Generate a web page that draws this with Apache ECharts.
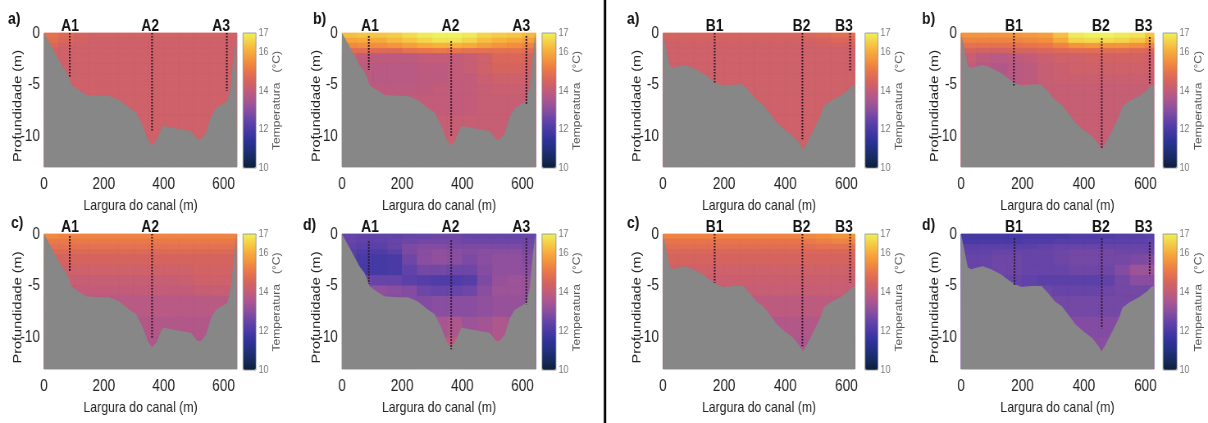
<!DOCTYPE html>
<html><head><meta charset="utf-8">
<script src="https://cdn.jsdelivr.net/npm/echarts@6/dist/echarts.min.js"></script>
<style>
html,body{margin:0;padding:0;background:#fff;overflow:hidden;width:1208px;height:423px}
#c{width:1473px;height:423px;transform:scaleX(0.820095);transform-origin:0 0}
</style>
</head><body><div id="c"></div>
<script>
// ---------- data ----------
const X_EDGES = [0,50,100,150,200,250,300,350,400,450,500,550,600,650];
const DEPTH_EDGES = [0,-0.5,-1,-1.5,-2,-3,-4,-5,-6,-8,-10,-13];
const X_TICKS = [0,200,400,600];
const Y_TICKS = [-10,-5,0];
const CBAR_TICKS = [10,12,14,16,17];
const TEMP_RANGE = [10,17];
const DEPTH_RANGE = [-13,0];
const WIDTH_A = 645, WIDTH_B = 628;
const PANEL_LABELS = ['a)','b)','c)','d)','a)','b)','c)','d)'];

const BOTTOM_A = [[0,0],[19,-1.0],[36,-1.9],[58,-3.1],[74,-3.7],[86,-4.5],[91,-5.0],[113,-5.5],[141,-6.0],[186,-6.1],[219,-6.1],[252,-6.5],[286,-7.3],[308,-7.7],[330,-9.0],[347,-10.3],[361,-10.9],[374,-10.5],[397,-9.0],[430,-9.2],[458,-9.35],[491,-9.5],[513,-10.3],[524,-10.3],[541,-9.7],[558,-8.1],[574,-7.3],[597,-6.9],[613,-6.6],[624,-5.2],[636,-1.6],[643,0],[645,0]];
const BOTTOM_B = [[0,0],[11,-1.6],[22,-3.2],[33,-3.4],[55,-3.2],[71,-3.1],[98,-3.4],[131,-3.9],[153,-4.4],[175,-4.85],[197,-5.1],[230,-5.0],[262,-5.0],[284,-5.7],[306,-6.5],[328,-6.95],[350,-7.8],[372,-8.7],[399,-9.4],[426,-10.0],[448,-10.8],[457,-11.3],[470,-10.7],[492,-9.4],[514,-8.1],[525,-7.1],[547,-6.6],[579,-6.1],[607,-5.5],[618,-5.1],[628,-5.0]];

// stations: [x, top depth, bottom depth, label x, name]
const ST_AA = [[86,0,-4.3,87,'A1'],[361,0,-9.5,355,'A2'],[611,0,-5.6,592,'A3']];
const ST_AB = [[89,-0.3,-3.6,93,'A1'],[363,-0.8,-10.0,361,'A2'],[613,-0.3,-6.9,596,'A3']];
const ST_AC = [[86,-0.2,-3.6,87,'A1'],[361,0,-10.1,355,'A2']];
const ST_AD = [[89,-0.7,-4.8,93,'A1'],[363,-0.6,-11.1,361,'A2'],[613,-0.4,-6.8,596,'A3']];
const ST_BA = [[169,0,-4.9,169,'B1'],[456,0,-10.3,453,'B2'],[612,0,-3.7,592,'B3']];
const ST_BB = [[172,0,-5.2,172,'B1'],[458,-0.5,-11.2,455,'B2'],[614,-0.4,-4.9,594,'B3']];
const ST_BC = [[169,0,-4.7,169,'B1'],[456,0,-10.8,453,'B2'],[612,0,-4.7,592,'B3']];
const ST_BD = [[174,-0.4,-5.0,172,'B1'],[458,-0.4,-9.1,455,'B2'],[614,-0.8,-4.0,594,'B3']];

// temperature (°C): rows = depth bands (DEPTH_EDGES), cols = 50 m bands (X_EDGES)
const TEMP_AA = [
[14.9,14.7,14.5,14.4,14.4,14.4,14.4,14.4,14.4,14.4,14.4,14.4,14.4],
[14.8,14.6,14.4,14.3,14.3,14.3,14.3,14.3,14.3,14.3,14.3,14.3,14.3],
[14.6,14.4,14.3,14.3,14.3,14.3,14.3,14.3,14.3,14.3,14.3,14.3,14.3],
[14.4,14.3,14.3,14.3,14.3,14.3,14.3,14.3,14.3,14.3,14.3,14.3,14.3],
[14.3,14.3,14.3,14.3,14.3,14.3,14.3,14.3,14.3,14.3,14.3,14.3,14.3],
[14.3,14.3,14.3,14.3,14.3,14.3,14.3,14.3,14.3,14.3,14.3,14.3,14.3],
[14.3,14.3,14.3,14.3,14.3,14.3,14.3,14.3,14.3,14.3,14.3,14.3,14.3],
[14.3,14.3,14.3,14.3,14.3,14.3,14.3,14.3,14.3,14.3,14.3,14.3,14.3],
[14.3,14.3,14.3,14.3,14.3,14.3,14.3,14.3,14.3,14.3,14.3,14.3,14.3],
[14.3,14.3,14.3,14.3,14.3,14.3,14.3,14.3,14.3,14.3,14.3,14.3,14.3],
[14.3,14.3,14.3,14.3,14.3,14.3,14.3,14.3,14.3,14.3,14.3,14.3,14.3]];
const TEMP_AB = [
[16.3,16.4,16.4,16.5,16.7,16.9,17.0,17.0,16.9,16.6,16.5,16.4,16.2],
[15.9,16.0,16.0,16.2,16.4,16.6,16.8,16.8,16.6,16.3,16.1,16.0,15.8],
[15.4,15.5,15.5,15.6,15.8,16.0,16.1,16.1,16.0,15.8,15.6,15.5,15.3],
[14.8,14.8,14.7,14.7,14.9,15.0,15.1,15.0,14.9,14.9,14.9,14.9,14.8],
[14.3,14.0,13.9,13.9,13.9,14.0,14.0,14.0,14.1,14.3,14.6,14.6,14.5],
[14.2,13.9,13.8,13.8,13.8,13.9,13.9,14.0,14.1,14.3,14.5,14.5,14.4],
[14.1,13.9,13.8,13.8,13.8,13.9,13.9,14.0,14.0,14.2,14.3,14.3,14.3],
[14.0,13.9,13.9,13.9,13.9,13.9,14.0,14.0,14.0,14.1,14.2,14.2,14.2],
[14.0,14.0,14.0,14.0,14.0,14.0,14.0,14.0,14.0,14.1,14.1,14.1,14.1],
[14.1,14.1,14.1,14.1,14.1,14.1,14.1,14.1,14.1,14.1,14.1,14.1,14.1],
[14.2,14.2,14.2,14.2,14.2,14.2,14.2,14.2,14.2,14.2,14.2,14.2,14.2]];
const TEMP_AC = [
[15.4,15.3,15.3,15.3,15.3,15.3,15.3,15.3,15.3,15.3,15.3,15.3,15.3],
[15.1,15.1,15.1,15.1,15.1,15.1,15.1,15.1,15.1,15.1,15.1,15.1,15.1],
[14.9,14.9,14.9,14.9,14.9,14.9,14.9,14.9,14.9,14.9,14.9,14.9,14.9],
[14.7,14.7,14.7,14.7,14.7,14.7,14.7,14.7,14.7,14.7,14.7,14.7,14.7],
[14.5,14.5,14.5,14.5,14.5,14.5,14.5,14.5,14.5,14.5,14.5,14.5,14.5],
[14.3,14.3,14.3,14.3,14.3,14.3,14.3,14.3,14.3,14.3,14.4,14.4,14.4],
[14.2,14.2,14.1,14.1,14.1,14.1,14.1,14.1,14.1,14.2,14.3,14.3,14.3],
[14.0,14.0,14.0,14.0,14.0,14.0,14.0,14.0,14.0,14.0,14.1,14.1,14.1],
[13.8,13.8,13.8,13.8,13.8,13.8,13.8,13.8,13.8,13.8,13.8,13.8,13.8],
[13.7,13.7,13.7,13.7,13.7,13.7,13.7,13.7,13.7,13.7,13.7,13.7,13.7],
[13.6,13.6,13.6,13.6,13.6,13.6,13.6,13.6,13.6,13.6,13.6,13.6,13.6]];
const TEMP_AD = [
[12.5,12.4,12.4,12.4,12.5,12.5,12.6,12.6,12.5,12.5,12.5,12.5,12.5],
[12.5,12.4,12.4,12.5,12.6,12.7,12.7,12.7,12.6,12.6,12.6,12.6,12.6],
[12.4,12.3,12.3,12.5,12.8,12.9,12.9,12.8,12.8,12.8,12.8,12.8,12.7],
[12.3,12.1,12.1,12.3,12.8,13.0,13.1,13.0,12.9,13.0,13.0,13.0,12.8],
[12.2,12.0,11.9,12.0,12.6,13.0,13.1,13.0,12.8,13.0,13.1,13.1,12.9],
[12.1,11.9,11.9,12.0,12.4,12.7,12.7,12.6,12.6,12.9,13.1,13.1,13.0],
[12.6,12.6,12.5,12.5,12.3,12.2,12.1,12.1,12.2,12.8,13.2,13.3,13.2],
[13.0,13.1,13.1,13.0,12.9,12.6,12.5,12.5,12.6,13.0,13.3,13.3,13.2],
[12.9,12.9,12.9,12.9,12.9,12.9,13.0,13.0,13.0,13.1,13.2,13.2,13.1],
[13.1,13.1,13.1,13.1,13.1,13.2,13.5,13.6,13.3,13.4,13.6,13.5,13.3],
[13.6,13.6,13.6,13.6,13.6,13.8,14.0,13.9,13.6,13.6,13.7,13.6,13.5]];
const TEMP_BA = [
[14.5,14.5,14.5,14.5,14.5,14.5,14.5,14.5,14.5,14.6,14.7,14.8,14.8],
[14.4,14.4,14.4,14.4,14.4,14.4,14.4,14.4,14.4,14.4,14.5,14.6,14.6],
[14.3,14.3,14.3,14.3,14.3,14.3,14.3,14.3,14.3,14.3,14.4,14.4,14.4],
[14.3,14.3,14.3,14.3,14.3,14.3,14.3,14.3,14.3,14.3,14.3,14.3,14.3],
[14.3,14.3,14.3,14.3,14.3,14.3,14.3,14.3,14.3,14.3,14.3,14.3,14.3],
[14.3,14.3,14.3,14.3,14.3,14.3,14.3,14.3,14.3,14.3,14.3,14.3,14.3],
[14.3,14.3,14.3,14.3,14.3,14.3,14.3,14.3,14.3,14.3,14.3,14.3,14.3],
[14.3,14.3,14.3,14.3,14.3,14.3,14.3,14.3,14.3,14.3,14.3,14.3,14.3],
[14.3,14.3,14.3,14.3,14.3,14.3,14.3,14.3,14.3,14.3,14.3,14.3,14.3],
[14.3,14.3,14.3,14.3,14.3,14.3,14.3,14.3,14.3,14.3,14.3,14.3,14.3],
[14.3,14.3,14.3,14.3,14.3,14.3,14.3,14.3,14.3,14.3,14.3,14.3,14.3]];
const TEMP_BB = [
[15.6,15.6,15.6,15.6,15.7,15.8,16.3,16.9,17.0,17.0,16.9,16.8,16.4],
[15.3,15.3,15.3,15.3,15.4,15.5,16.0,16.6,16.7,16.7,16.6,16.4,16.0],
[14.9,14.9,14.9,14.9,15.0,15.1,15.3,15.6,15.7,15.6,15.6,15.5,15.3],
[14.5,14.4,14.4,14.5,14.5,14.6,14.7,14.8,14.8,14.8,14.8,14.7,14.6],
[14.1,13.9,13.8,13.9,14.0,14.2,14.3,14.3,14.4,14.4,14.4,14.4,14.3],
[14.0,13.8,13.7,13.8,13.9,14.1,14.2,14.3,14.3,14.3,14.3,14.3,14.3],
[14.0,13.9,13.8,13.8,13.9,14.1,14.2,14.2,14.2,14.2,14.2,14.2,14.2],
[14.1,14.1,14.1,14.1,14.1,14.1,14.1,14.1,14.1,14.1,14.1,14.1,14.1],
[14.1,14.1,14.1,14.1,14.1,14.1,14.1,14.1,14.1,14.1,14.1,14.1,14.1],
[14.1,14.1,14.1,14.1,14.1,14.1,14.1,14.1,14.1,14.1,14.1,14.1,14.1],
[14.1,14.1,14.1,14.1,14.1,14.1,14.1,14.1,14.1,14.1,14.1,14.1,14.1]];
const TEMP_BC = [
[15.3,15.3,15.3,15.3,15.3,15.3,15.3,15.3,15.3,15.4,15.5,15.6,15.6],
[15.0,15.0,15.0,15.0,15.0,15.0,15.0,15.0,15.0,15.1,15.2,15.3,15.3],
[14.8,14.8,14.8,14.8,14.8,14.8,14.8,14.8,14.8,14.8,14.9,14.9,14.9],
[14.6,14.6,14.6,14.6,14.6,14.6,14.6,14.6,14.6,14.6,14.6,14.6,14.6],
[14.5,14.5,14.5,14.5,14.5,14.5,14.5,14.5,14.5,14.5,14.5,14.5,14.5],
[14.3,14.3,14.3,14.3,14.3,14.3,14.3,14.3,14.3,14.3,14.3,14.3,14.3],
[14.2,14.2,14.2,14.2,14.2,14.2,14.2,14.2,14.2,14.2,14.2,14.2,14.2],
[14.1,14.1,14.1,14.1,14.1,14.1,14.1,14.1,14.1,14.1,14.1,14.1,14.1],
[13.9,13.9,13.9,13.9,13.9,13.9,13.9,13.9,13.9,13.9,13.9,13.9,13.9],
[13.7,13.7,13.7,13.7,13.7,13.7,13.7,13.7,13.7,13.7,13.7,13.7,13.7],
[13.6,13.6,13.6,13.6,13.6,13.6,13.6,13.6,13.6,13.6,13.6,13.6,13.6]];
const TEMP_BD = [
[11.9,11.9,11.9,11.9,12.0,12.0,12.0,12.1,12.1,12.1,12.2,12.2,12.3],
[12.0,12.0,12.0,12.0,12.1,12.1,12.2,12.2,12.2,12.3,12.3,12.3,12.4],
[12.3,12.3,12.3,12.3,12.3,12.4,12.5,12.5,12.5,12.5,12.5,12.5,12.5],
[12.4,12.4,12.5,12.5,12.5,12.5,12.6,12.7,12.7,12.7,12.6,12.6,12.6],
[12.5,12.5,12.6,12.6,12.5,12.5,12.6,12.7,12.7,12.7,12.7,12.8,12.9],
[12.5,12.5,12.6,12.6,12.5,12.5,12.5,12.6,12.6,12.6,12.9,13.3,13.3],
[12.5,12.5,12.5,12.5,12.4,12.3,12.3,12.3,12.3,12.4,12.7,13.0,13.0],
[12.7,12.7,12.7,12.7,12.6,12.6,12.5,12.5,12.5,12.6,12.7,12.7,12.7],
[12.7,12.7,12.7,12.7,12.7,12.7,12.7,12.7,12.7,12.7,12.7,12.7,12.7],
[12.9,12.9,12.9,12.9,12.9,12.9,12.9,12.9,12.9,12.9,12.9,12.9,12.9],
[13.0,13.0,13.0,13.0,13.0,13.0,13.0,13.0,13.0,13.0,13.0,13.0,13.0]];

// ---------- styling / layout ----------
const COLORMAP = ['#0d1d3a','#172a5e','#22307f','#30339a','#4a3aa6','#6644a8','#8a4ea0','#a85692','#c25c7a','#d6645e','#e8744c','#f28e3e','#f6aa3c','#f6cc46','#eef25c'];
const SANS = "'Liberation Sans',Arial,sans-serif";
const GRAY = '#878787';
const SX = 1208 / 1473;            // page is drawn wide, then squeezed horizontally like the original figure
const px = v => v / SX;            // target-pixel x -> drawing x

const PANELS = [
  {temp:TEMP_AA, bottom:BOTTOM_A, xmax:WIDTH_A, st:ST_AA, grid:[44,33,193,134], cb:[243,33,13,135], lab:[8,11]},
  {temp:TEMP_AB, bottom:BOTTOM_A, xmax:WIDTH_A, st:ST_AB, grid:[342,33,194,134], cb:[542,33,14,135], lab:[313,11]},
  {temp:TEMP_AC, bottom:BOTTOM_A, xmax:WIDTH_A, st:ST_AC, grid:[44,234,193,135], cb:[243,234,13,136], lab:[11,215]},
  {temp:TEMP_AD, bottom:BOTTOM_A, xmax:WIDTH_A, st:ST_AD, grid:[342,234,194,135], cb:[542,234,14,136], lab:[303,217]},
  {temp:TEMP_BA, bottom:BOTTOM_B, xmax:WIDTH_B, st:ST_BA, grid:[663,33,192,134], cb:[865,33,13,135], lab:[627,11]},
  {temp:TEMP_BB, bottom:BOTTOM_B, xmax:WIDTH_B, st:ST_BB, grid:[961,33,193,134], cb:[1163,33,14,135], lab:[922,11]},
  {temp:TEMP_BC, bottom:BOTTOM_B, xmax:WIDTH_B, st:ST_BC, grid:[663,234,192,135], cb:[865,234,13,136], lab:[627,215]},
  {temp:TEMP_BD, bottom:BOTTOM_B, xmax:WIDTH_B, st:ST_BD, grid:[961,234,193,135], cb:[1163,234,14,136], lab:[922,217]}
];

function cells(temp){
  const out = [];
  for (let r = 0; r < temp.length; r++)
    for (let c = 0; c < temp[r].length; c++)
      out.push([X_EDGES[c], X_EDGES[c+1], DEPTH_EDGES[r], DEPTH_EDGES[r+1], temp[r][c]]);
  return out;
}
function renderCell(params, api){
  const p0 = api.coord([api.value(0), api.value(2)]);
  const p1 = api.coord([api.value(1), api.value(3)]);
  const c = api.visual('color');
  const shape = echarts.graphic.clipRectByRect(
    {x:p0[0], y:p0[1], width:p1[0]-p0[0], height:p1[1]-p0[1]},
    {x:params.coordSys.x, y:params.coordSys.y, width:params.coordSys.width, height:params.coordSys.height});
  return shape && {type:'rect', shape:shape, style:{fill:c, stroke:c, lineWidth:0.8}};
}
function stationRenderer(list){
  return function(params, api){
    const a = api.coord([api.value(0), api.value(1)]);
    const b = api.coord([api.value(0), api.value(2)]);
    const t = api.coord([api.value(3), 0]);
    return {type:'group', children:[
      {type:'line', shape:{x1:a[0], y1:a[1], x2:b[0], y2:b[1]},
       style:{stroke:'#2a1322', lineWidth:2, lineDash:[1.6,1.4]}},
      {type:'text', x:t[0], y:t[1]+2,
       style:{text:list[params.dataIndex][4], align:'center', verticalAlign:'bottom',
              fontSize:17, fontWeight:'bold', fontFamily:SANS, fill:'#111'}}
    ]};
  };
}

const option = {
  animation:false, backgroundColor:'#fff',
  grid:[], xAxis:[], yAxis:[], series:[], visualMap:[], title:[],
  graphic:[{type:'line', shape:{x1:px(605),y1:0,x2:px(605),y2:423}, style:{stroke:'#000', lineWidth:3}}]
};

PANELS.forEach((p, i) => {
  const g = option.grid.length;
  option.grid.push({left:px(p.grid[0]), top:p.grid[1], width:px(p.grid[2]), height:p.grid[3],
    show:true, backgroundColor:GRAY, borderWidth:0});
  option.grid.push({left:px(p.cb[0]), top:p.cb[1], width:px(p.cb[2]), height:p.cb[3],
    show:true, backgroundColor:'transparent', borderColor:'#8c8c8c', borderWidth:0.8, z:10});
  option.xAxis.push({gridIndex:g, type:'value', min:0, max:p.xmax,
    axisLine:{show:false}, axisTick:{show:false}, splitLine:{show:false},
    axisLabel:{customValues:X_TICKS, fontFamily:SANS, fontSize:16.5, color:'#222', margin:9},
    name:'Largura do canal (m)', nameLocation:'middle', nameMoveOverlap:false,
    nameGap:31,
    nameTextStyle:{fontFamily:SANS, fontSize:15, color:'#222', verticalAlign:'top'}});
  option.xAxis.push({gridIndex:g+1, type:'value', min:0, max:1, show:false});
  option.yAxis.push({gridIndex:g, type:'value', min:DEPTH_RANGE[0], max:DEPTH_RANGE[1],
    axisLine:{show:false}, axisTick:{show:false}, splitLine:{show:false},
    axisLabel:{customValues:Y_TICKS, fontFamily:SANS, fontSize:16.5, color:'#222', margin:5},
    name:'Profundidade (m)', nameLocation:'middle', nameRotate:90, nameGap:24, nameMoveOverlap:false,
    nameTextStyle:{fontFamily:SANS, fontSize:14.5, color:'#222', padding:[0,0,0,-12]}});
  option.yAxis.push({gridIndex:g+1, type:'value', position:'right', min:TEMP_RANGE[0], max:TEMP_RANGE[1],
    axisLine:{show:false}, axisTick:{show:false}, splitLine:{show:false},
    axisLabel:{customValues:CBAR_TICKS, fontFamily:SANS, fontSize:11, color:'#777', margin:3},
    name:'Temperatura   (°C)', nameLocation:'middle', nameRotate:90, nameGap:20, nameMoveOverlap:false,
    nameTextStyle:{fontFamily:SANS, fontSize:12, color:'#555'}});

  const s = option.series.length;
  option.series.push({type:'custom', xAxisIndex:g, yAxisIndex:g, data:cells(p.temp),
    encode:{x:[0,1], y:[2,3]}, renderItem:renderCell, z:1, silent:true});
  option.series.push({type:'line', xAxisIndex:g, yAxisIndex:g, data:p.bottom, symbol:'none',
    lineStyle:{width:0}, areaStyle:{color:GRAY, opacity:1, origin:'start'}, z:2, silent:true});
  option.series.push({type:'custom', xAxisIndex:g, yAxisIndex:g,
    data:p.st.map(d => [d[0], d[1], d[2], d[3]]), encode:{x:[0,3], y:[1,2]},
    renderItem:stationRenderer(p.st), clip:false, z:3, silent:true});

  option.visualMap.push({type:'continuous', min:TEMP_RANGE[0], max:TEMP_RANGE[1], seriesIndex:s,
    dimension:4, inRange:{color:COLORMAP}, calculable:false, show:true, orient:'vertical',
    left:px(p.cb[0]), top:p.cb[1], itemWidth:px(p.cb[2]), itemHeight:p.cb[3], padding:0, hoverLink:false});

  option.title.push({text:PANEL_LABELS[i], left:px(p.lab[0]), top:p.lab[1], padding:0,
    textStyle:{fontFamily:SANS, fontSize:17, fontWeight:'bold', color:'#111'}});
});

const chart = echarts.init(document.getElementById('c'), null, {renderer:'canvas', width:1473, height:423});
chart.setOption(option);
</script></body></html>
